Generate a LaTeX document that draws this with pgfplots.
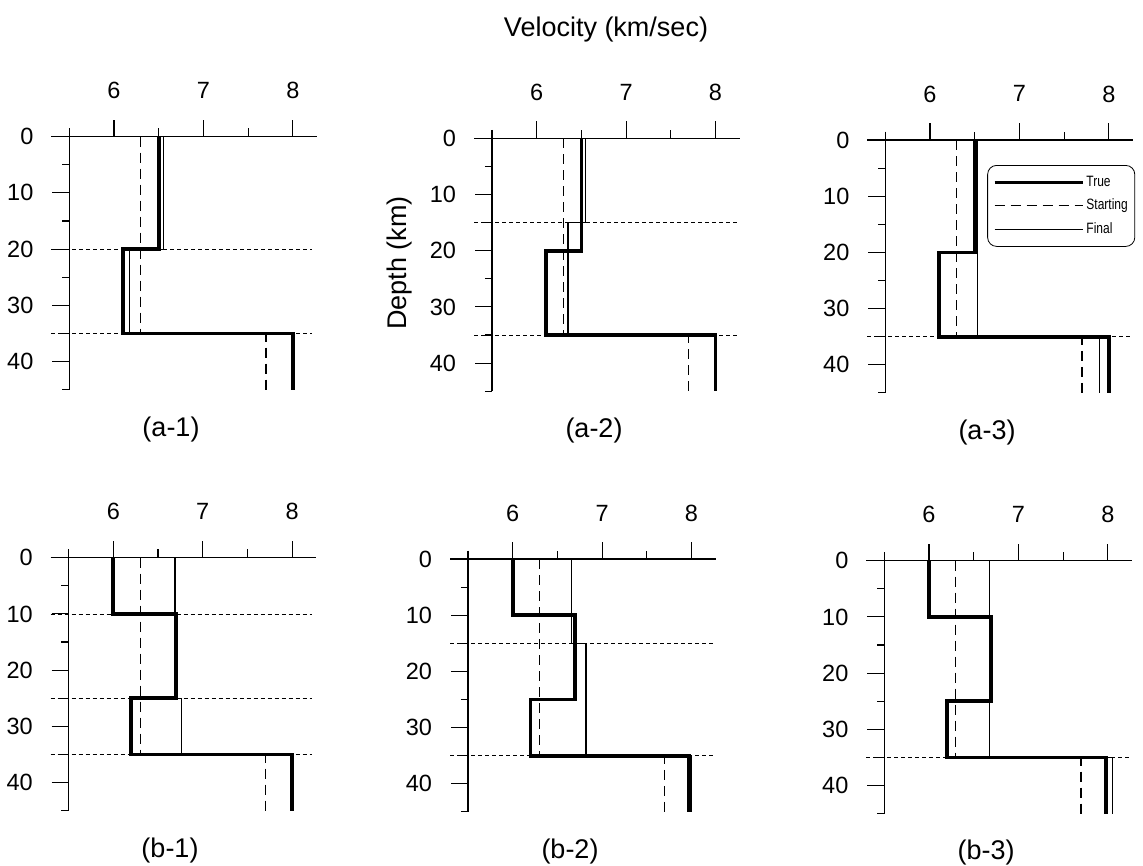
\documentclass[border=0pt]{standalone}
\usepackage{pgfplots}
\pgfplotsset{compat=1.18}
\usepackage{graphicx}
\usepackage{fontspec}
\setmainfont{Liberation Sans}

\newcommand\ticks{\fontsize{23.5}{25}\selectfont}
\newcommand\lab{\fontsize{27}{30}\selectfont}

\pgfplotsset{
  vpanel/.style={
    scale only axis, width=268.2pt, height=269.8pt,
    xmin=5.3, xmax=8.3, ymin=-2, ymax=46, y dir=reverse,
    hide axis, clip=false, anchor=north west,
  },
  truem/.style={black, line width=3.8pt, line join=miter},
  startm/.style={black, line width=1.1pt, dash pattern=on 10pt off 6pt},
  finalm/.style={black, line width=1.1pt},
  bound/.style={black, line width=0.8pt, dash pattern=on 4pt off 3pt},
}

% axis lines, ticks and tick labels of one panel
\newcommand\deco{%
  \draw[line width=1.1pt] (axis cs:5.3,0) -- (axis cs:8.27,0);
  \draw[line width=1.1pt] (axis cs:5.5,-1.5) -- (axis cs:5.5,45);
  \pgfplotsinvokeforeach{6,7,8}{%
    \draw[line width=1.1pt] (axis cs:##1,0) -- (axis cs:##1,-3);
    \node[font=\ticks, inner sep=0pt] at (axis cs:##1,-8.2) {##1};
  }%
  \pgfplotsinvokeforeach{6.5,7.5}{%
    \draw[line width=1.1pt] (axis cs:##1,0) -- (axis cs:##1,-1.5);
  }%
  \pgfplotsinvokeforeach{10,20,30,40}{%
    \draw[line width=1.1pt] (axis cs:5.31,##1) -- (axis cs:5.5,##1);
  }%
  \pgfplotsinvokeforeach{5,15,25,35,45}{%
    \draw[line width=1.1pt] (axis cs:5.42,##1) -- (axis cs:5.5,##1);
  }%
  \pgfplotsinvokeforeach{0,10,20,30,40}{%
    \node[font=\ticks, inner sep=0pt, anchor=east] at (axis cs:5.1,##1) {##1};
  }%
}

\begin{document}
\begin{tikzpicture}
\useasboundingbox (0,0) rectangle (1143pt,-866pt);

\node[font=\lab] at (606pt,-30pt) {Velocity (km/sec)};
\node[font=\lab, rotate=90] at (400pt,-263pt) {Depth (km)};

% ---------- (a-1)
\begin{axis}[vpanel, at={(51.42pt,-125.46pt)}]
\deco
\addplot[bound] coordinates {(5.3,20) (8.22,20)};
\addplot[bound] coordinates {(5.3,35) (8.22,35)};
\addplot[startm] coordinates {(6.3,0) (6.3,35) (7.7,35) (7.7,45)};
\addplot[finalm] coordinates {(6.55,0) (6.55,20) (6.17,20) (6.17,35) (8.0,35) (8.0,45)};
\addplot[truem] coordinates {(6.5,0) (6.5,20) (6.1,20) (6.1,35) (8.0,35) (8.0,45)};
\end{axis}

% ---------- (a-2)
\begin{axis}[vpanel, at={(474.12pt,-127.06pt)}]
\deco
\addplot[bound] coordinates {(5.3,15) (8.24,15)};
\addplot[bound] coordinates {(5.3,35) (8.24,35)};
\addplot[startm] coordinates {(6.3,0) (6.3,35) (7.7,35) (7.7,45)};
\addplot[finalm] coordinates {(6.55,0) (6.55,15) (6.35,15) (6.35,35) (8.0,35) (8.0,45)};
\addplot[truem] coordinates {(6.5,0) (6.5,20) (6.1,20) (6.1,35) (8.0,35) (8.0,45)};
\end{axis}

% ---------- (a-3)
\begin{axis}[vpanel, at={(867.42pt,-128.76pt)},
  legend style={at={(axis cs:6.64,4.45)}, anchor=north west, draw=black,
    line width=0.8pt, rounded corners=9pt, inner xsep=5pt, inner ysep=8pt,
    row sep=5.5pt, font=\fontsize{15}{15}\selectfont,
    nodes={inner sep=2pt, text height=11pt, text depth=3pt}},
  legend cell align=left,
  legend image code/.code={\draw[#1, rounded corners=0pt] (0pt,0pt) -- (88pt,0pt);},
]
\deco
\addlegendimage{truem}\addlegendentry{\scalebox{0.8}[1]{True}}
\addlegendimage{startm}\addlegendentry{\scalebox{0.8}[1]{Starting}}
\addlegendimage{finalm}\addlegendentry{\scalebox{0.8}[1]{Final}}
\addplot[bound, forget plot] coordinates {(5.3,35) (8.24,35)};
\addplot[startm, forget plot] coordinates {(6.3,0) (6.3,35) (7.7,35) (7.7,45)};
\addplot[finalm, forget plot] coordinates {(6.53,0) (6.53,35) (7.9,35) (7.9,45)};
\addplot[truem, forget plot] coordinates {(6.5,0) (6.5,20) (6.1,20) (6.1,35) (8.0,35) (8.0,45)};
\end{axis}

% ---------- (b-1)
\begin{axis}[vpanel, at={(50.72pt,-546.46pt)}]
\deco
\addplot[bound] coordinates {(5.3,10) (8.22,10)};
\addplot[bound] coordinates {(5.3,25) (8.22,25)};
\addplot[bound] coordinates {(5.3,35) (8.22,35)};
\addplot[startm] coordinates {(6.3,0) (6.3,35) (7.7,35) (7.7,45)};
\addplot[finalm] coordinates {(6.69,0) (6.69,25) (6.76,25) (6.76,35) (8.0,35) (8.0,45)};
\addplot[truem] coordinates {(6.0,0) (6.0,10) (6.7,10) (6.7,25) (6.2,25) (6.2,35) (8.0,35) (8.0,45)};
\end{axis}

% ---------- (b-2)
\begin{axis}[vpanel, at={(450.12pt,-547.76pt)}]
\deco
\addplot[bound] coordinates {(5.3,15) (8.24,15)};
\addplot[bound] coordinates {(5.3,35) (8.24,35)};
\addplot[startm] coordinates {(6.3,0) (6.3,35) (7.7,35) (7.7,45)};
\addplot[finalm] coordinates {(6.66,0) (6.66,15) (6.82,15) (6.82,35) (8.0,35) (8.0,45)};
\addplot[truem] coordinates {(6.0,0) (6.0,10) (6.7,10) (6.7,25) (6.2,25) (6.2,35) (7.97,35) (7.97,45)};
\end{axis}

% ---------- (b-3)
\begin{axis}[vpanel, at={(866.42pt,-549.46pt)}]
\deco
\addplot[bound] coordinates {(5.3,35) (8.24,35)};
\addplot[startm] coordinates {(6.3,0) (6.3,35) (7.7,35) (7.7,45)};
\addplot[finalm] coordinates {(6.68,0) (6.68,35) (8.05,35) (8.05,45)};
\addplot[truem] coordinates {(6.0,0) (6.0,10) (6.7,10) (6.7,25) (6.2,25) (6.2,35) (7.98,35) (7.98,45)};
\end{axis}

% panel labels
\node[font=\lab] at (171pt,-430pt) {(a-1)};
\node[font=\lab] at (594pt,-431pt) {(a-2)};
\node[font=\lab] at (987pt,-433pt) {(a-3)};
\node[font=\lab] at (170pt,-851pt) {(b-1)};
\node[font=\lab] at (570pt,-852pt) {(b-2)};
\node[font=\lab] at (986pt,-853pt) {(b-3)};
\end{tikzpicture}
\end{document}
